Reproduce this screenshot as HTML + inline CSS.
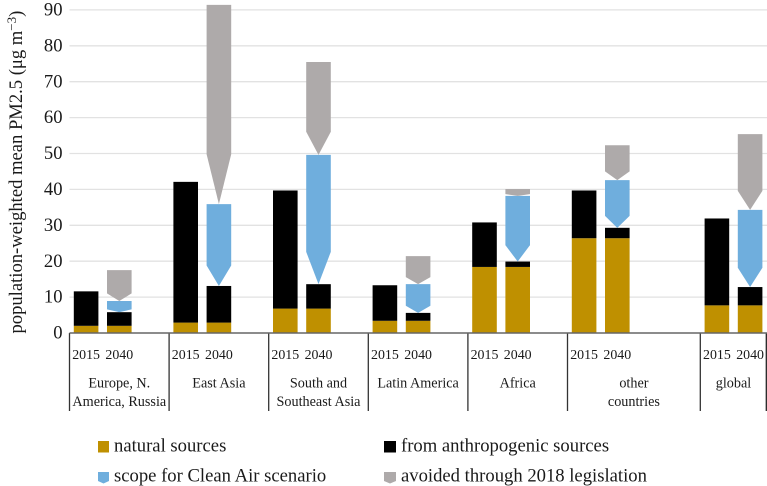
<!DOCTYPE html>
<html lang="en">
<head>
<meta charset="utf-8">
<title>Population-weighted mean PM2.5</title>
<style>
html,body{margin:0;padding:0;background:#fff;}
svg{display:block;font-family:"Liberation Serif",serif;fill:#1a1a1a;}
</style>
</head>
<body>
<svg id="chart" xmlns="http://www.w3.org/2000/svg" width="767" height="486" viewBox="0 0 767 486">
  <g id="grid"></g>
  <g id="ticks"></g>
  <text transform="translate(22,333.5) rotate(-90)" font-size="18.6">population-weighted mean PM2.5 (μg m<tspan dy="-6" font-size="13">−3</tspan><tspan dy="6">)</tspan></text>
  <g id="bars"></g>
  <g id="axis"></g>
  <g font-size="18.65">
    <g>
      <rect x="98" y="441" width="11" height="11.5" fill="#BF9000"/>
      <text x="114" y="451.5">natural sources</text>
    </g>
    <g>
      <rect x="384" y="441" width="12" height="11.5" fill="#000"/>
      <text x="401" y="451.5">from anthropogenic sources</text>
    </g>
    <g>
      <polygon points="98,472 109,472 109,481 103.5,483.5 98,481" fill="#6FAEDD"/>
      <text x="114" y="481.5">scope for Clean Air scenario</text>
    </g>
    <g>
      <polygon points="384,472 396,472 396,481 390,483.5 384,481" fill="#AEAAAA"/>
      <text x="401" y="481.5">avoided through 2018 legislation</text>
    </g>
  </g>
</svg>
<script>
const tickValues = [0, 10, 20, 30, 40, 50, 60, 70, 80, 90];
const regions = [["Europe, N.", "America, Russia"], ["East Asia"], ["South and", "Southeast Asia"], ["Latin America"], ["Africa"], ["other", "countries"], ["global"]];
const regionSlots = [3, 3, 3, 3, 3, 4, 2];
const years = ["2015", "2040"];
const natural = [2.0, 2.9, 6.8, 3.4, 18.4, 26.4, 7.7];
const anthropogenic2015 = [9.6, 39.2, 32.9, 9.9, 12.4, 13.3, 24.2];
const anthropogenic2040 = [3.8, 10.2, 6.8, 2.2, 1.5, 2.9, 5.1];
const cleanAirScope = [3.1, 22.8, 36.0, 8.0, 18.3, 13.3, 21.5];
const avoidedLegislation = [8.6, 55.5, 25.9, 7.8, 1.9, 9.7, 21.1];

const NS = "http://www.w3.org/2000/svg";
const plotLeft = 69.5, plotRight = 767, baseY = 333, unitY = 3.59, slotW = 33.2, barW = 24.6;
const totalSlots = regionSlots.reduce((a, b) => a + b, 0);
const y = v => baseY - v * unitY;
const slotX = s => plotLeft + s * (plotRight - plotLeft - 0.3) / totalSlots;

function mk(parent, tag, attrs, text) {
  const el = document.createElementNS(NS, tag);
  for (const k in attrs) el.setAttribute(k, attrs[k]);
  if (text !== undefined) el.textContent = text;
  parent.appendChild(el);
  return el;
}
function arrow(parent, cx, topVal, tipVal, fill) {
  const top = y(topVal), tip = y(tipVal);
  const shoulder = tip - (tip - top) * 0.25;
  const l = cx - barW / 2, r = cx + barW / 2;
  const pts = [[l, top], [r, top], [r, shoulder], [cx, tip], [l, shoulder]].map(p => p.join(",")).join(" ");
  return mk(parent, "polygon", {points: pts, fill: fill});
}

const gGrid = document.getElementById("grid");
const gTicks = document.getElementById("ticks");
tickValues.forEach(v => {
  if (v > 0) {
    const line = mk(gGrid, "line", {x1: plotLeft, x2: plotRight, y1: y(v), y2: y(v), stroke: "#E2E2E2", "stroke-width": 1.3});
    
    
  }
  const label = mk(gTicks, "text", {x: 62.5, y: y(v) + 5.6, "text-anchor": "end", "font-size": 18.6}, String(v));
  
  
});

const gBars = document.getElementById("bars");
const gAxis = document.getElementById("axis");
let slot = 0;
regions.forEach((lines, i) => {
  const cx15 = slotX(slot + 0.5), cx40 = slotX(slot + 1.5);
  const n = natural[i], t15 = n + anthropogenic2015[i], t40 = n + anthropogenic2040[i];
  const t1 = t40 + cleanAirScope[i], t2 = t1 + avoidedLegislation[i];

  const natA = mk(gBars, "rect", {x: cx15 - barW / 2, y: y(n), width: barW, height: y(0) - y(n), fill: "#BF9000"});
  
  
  const antA = mk(gBars, "rect", {x: cx15 - barW / 2, y: y(t15), width: barW, height: y(n) - y(t15), fill: "#000"});
  
  
  const natB = mk(gBars, "rect", {x: cx40 - barW / 2, y: y(n), width: barW, height: y(0) - y(n), fill: "#BF9000"});
  
  
  const antB = mk(gBars, "rect", {x: cx40 - barW / 2, y: y(t40), width: barW, height: y(n) - y(t40), fill: "#000"});
  
  
  const blue = arrow(gBars, cx40, t1, t40, "#6FAEDD");
  
  
  const grey = arrow(gBars, cx40, t2, t1, "#AEAAAA");
  
  

  years.forEach((yr, j) => {
    const yl = mk(gAxis, "text", {x: slotX(slot + j + 0.5), y: 359, "text-anchor": "middle", "font-size": 13.9}, yr);
    
    
  });

  const groupCx = slotX(slot + regionSlots[i] / 2);
  lines.forEach((ln, j) => {
    const rl = mk(gAxis, "text", {x: groupCx, y: 387.5 + j * 18.5, "text-anchor": "middle", "font-size": 14.2}, ln);
    
    
  });

  const sep = mk(gAxis, "line", {x1: slotX(slot), x2: slotX(slot), y1: baseY, y2: 411, stroke: "#333", "stroke-width": 1.3});
  
  
  slot += regionSlots[i];
});
const lastSep = mk(gAxis, "line", {x1: slotX(slot) - 0.4, x2: slotX(slot) - 0.4, y1: baseY, y2: 411, stroke: "#222", "stroke-width": 1.3});


const axisLine = mk(gAxis, "line", {x1: plotLeft, x2: plotRight, y1: baseY, y2: baseY, stroke: "#666", "stroke-width": 1.4});


</script>
</body>
</html>
